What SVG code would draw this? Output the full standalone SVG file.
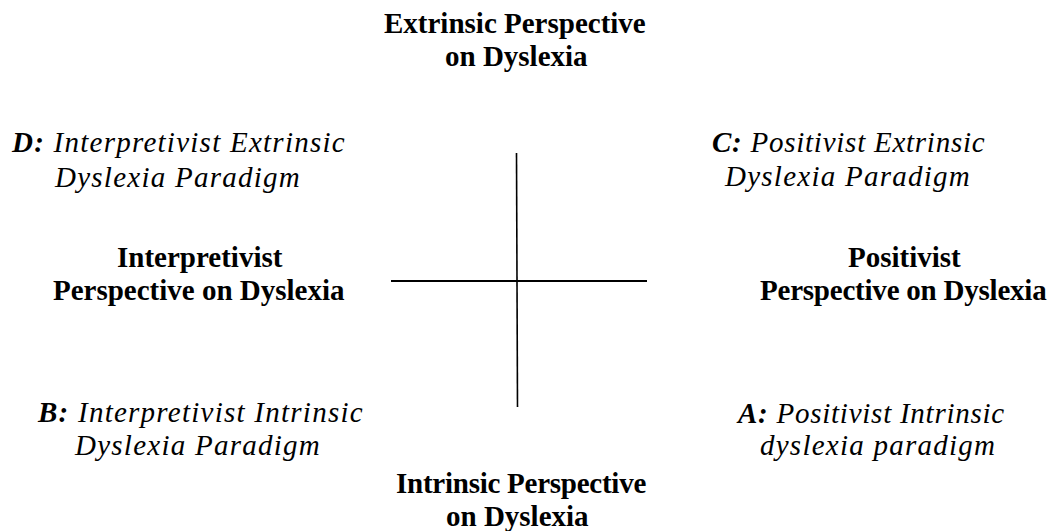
<svg xmlns="http://www.w3.org/2000/svg" width="1055" height="531" viewBox="0 0 1055 531">
<style>
text{font-family:'Liberation Serif','Times New Roman',serif;font-size:29px;fill:#000}
.b{font-weight:bold}
.i{font-style:italic;letter-spacing:1.25px}
.n{letter-spacing:0.75px}
</style>
<rect width="1055" height="531" fill="#fff"/>
<g id="connectors" stroke="#000">
<line x1="516.5" y1="153" x2="517.5" y2="407" stroke-width="1.6"/>
<line x1="391" y1="281" x2="647" y2="281" stroke-width="2"/>
</g>
<g id="top"><text class="b" x="384" y="33">Extrinsic Perspective</text><text class="b" x="445" y="66">on Dyslexia</text></g>
<g id="bottom"><text class="b" x="396" y="493" letter-spacing="-0.25">Intrinsic Perspective</text><text class="b" x="446" y="526">on Dyslexia</text></g>
<g id="left"><text class="b" x="117" y="267">Interpretivist</text><text class="b" x="53" y="300">Perspective on Dyslexia</text></g>
<g id="right"><text class="b" x="848" y="267">Positivist</text><text class="b" x="760" y="300" letter-spacing="-0.22">Perspective on Dyslexia</text></g>
<g id="D"><text x="12" y="152"><tspan class="b i">D:</tspan><tspan class="i"> Interpretivist Extrinsic</tspan></text><text class="i" x="55" y="187">Dyslexia Paradigm</text></g>
<g id="C"><text x="712" y="152"><tspan class="b i n">C:</tspan><tspan class="i n"> Positivist Extrinsic</tspan></text><text class="i" x="725" y="186">Dyslexia Paradigm</text></g>
<g id="B"><text x="38" y="422"><tspan class="b i">B:</tspan><tspan class="i"> Interpretivist Intrinsic</tspan></text><text class="i" x="75" y="455">Dyslexia Paradigm</text></g>
<g id="A"><text x="738" y="423"><tspan class="b i n">A:</tspan><tspan class="i n"> Positivist Intrinsic</tspan></text><text class="i" x="760" y="455">dyslexia paradigm</text></g>
</svg>
